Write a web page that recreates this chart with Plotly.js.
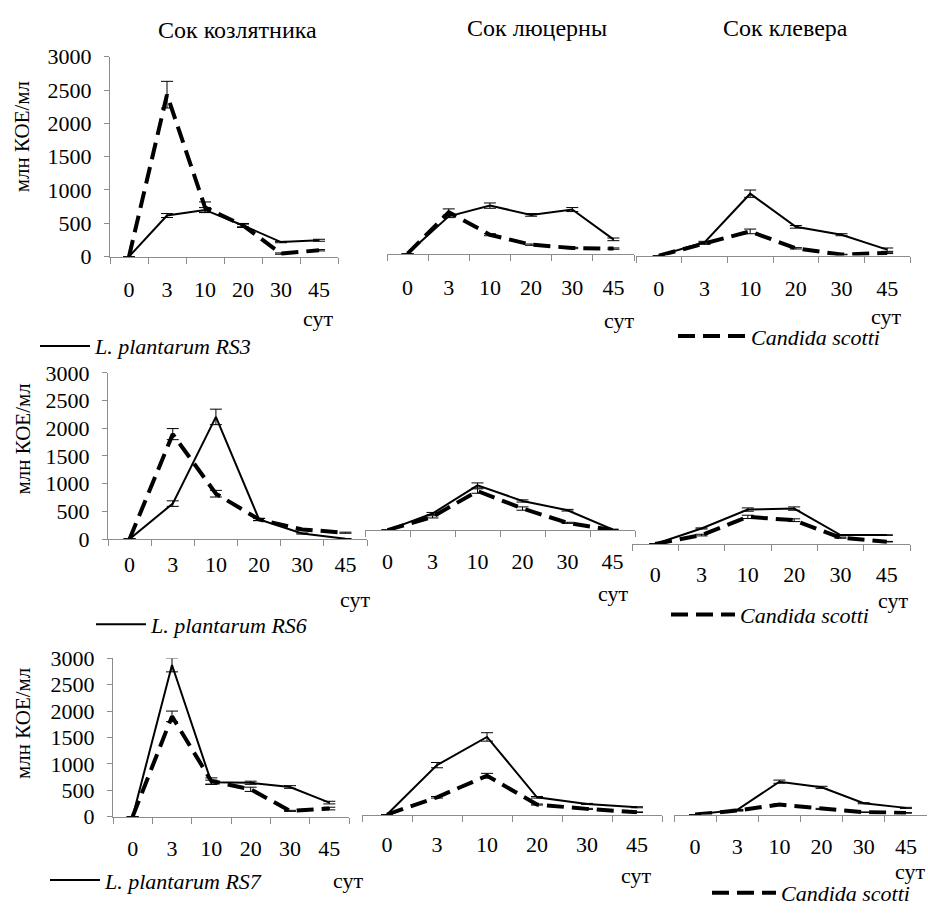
<!DOCTYPE html>
<html>
<head>
<meta charset="utf-8">
<script src="https://cdn.plot.ly/plotly-3.0.1.min.js"></script>
<style>html,body{margin:0;padding:0;background:#fff}#chart{width:928px;height:914px}</style>
</head>
<body>
<div id="chart"></div>
<script>
// ---- categories (days) ----
const days = ['0', '3', '10', '20', '30', '45'];
const juices = ['Сок козлятника', 'Сок люцерны', 'Сок клевера'];
const yTicks = [0, 500, 1000, 1500, 2000, 2500, 3000];

// ---- Row 1: L. plantarum RS3 / Candida scotti ----
const rs3_koz = [0, 616, 700, 467, 218, 245];
const rs3_koz_err = [0, 30, 35, 20, 10, 15];
const cs1_koz = [0, 2430, 740, 467, 45, 95];
const cs1_koz_err = [0, 200, 80, 30, 10, 10];
const rs3_lyu = [0, 560, 720, 581, 661, 214];
const rs3_lyu_err = [0, 20, 40, 20, 30, 20];
const cs1_lyu = [0, 621, 283, 134, 84, 75];
const cs1_lyu_err = [0, 50, 15, 10, 10, 10];
const rs3_klev = [0, 199, 929, 432, 313, 89];
const rs3_klev_err = [0, 15, 55, 20, 15, 25];
const cs1_klev = [0, 184, 363, 109, 15, 40];
const cs1_klev_err = [0, 15, 35, 10, 5, 10];

// ---- Row 2: L. plantarum RS6 / Candida scotti ----
const rs6_koz = [0, 640, 2206, 353, 100, 5];
const rs6_koz_err = [0, 50, 140, 20, 10, 5];
const cs2_koz = [0, 1895, 819, 353, 173, 114];
const cs2_koz_err = [0, 100, 60, 20, 10, 10];
const rs6_lyu = [0, 299, 807, 526, 359, 12];
const rs6_lyu_err = [0, 20, 45, 20, 15, 5];
const cs2_lyu = [0, 239, 705, 389, 131, 0];
const cs2_lyu_err = [0, 20, 40, 30, 10, 5];
const rs6_klev = [0, 281, 622, 640, 161, 161];
const rs6_klev_err = [0, 10, 30, 30, 10, 5];
const cs2_klev = [0, 161, 490, 430, 114, 42];
const cs2_klev_err = [0, 15, 30, 25, 10, 5];

// ---- Row 3: L. plantarum RS7 / Candida scotti ----
const rs7_koz = [0, 2874, 650, 640, 560, 264];
const rs7_koz_err = [0, 130, 40, 30, 25, 25];
const cs3_koz = [0, 1900, 673, 516, 107, 151];
const cs3_koz_err = [0, 100, 60, 40, 10, 25];
const rs7_lyu = [0, 937, 1472, 327, 201, 138];
const rs7_lyu_err = [0, 50, 80, 15, 10, 10];
const cs3_lyu = [0, 327, 736, 189, 107, 44];
const cs3_lyu_err = [0, 15, 45, 10, 10, 5];
const rs7_klev = [0, 88, 623, 516, 214, 126];
const rs7_klev_err = [0, 10, 30, 20, 10, 10];
const cs3_klev = [0, 75, 189, 107, 44, 31];
const cs3_klev_err = [0, 10, 15, 10, 5, 5];

const strainNames = ['L. plantarum RS3', 'L. plantarum RS6', 'L. plantarum RS7'];
const yeastName = 'Candida scotti';
const yTitle = 'млн КОЕ/мл';
const dayUnit = 'сут';

const W = 928, H = 914;
const FONT = '"Liberation Serif", "Times New Roman", serif';
const AX = '#8c8c8c';

// panel geometry in pixels: [x0, x1, yTop(3000), yZero]
const panels = [
  [110, 338, 57, 258], [387, 634, 54, 255], [636, 910, 56, 257],
  [108, 367, 375, 542], [365, 635, 366, 533], [632, 910, 380, 547],
  [113, 349, 662, 821], [362, 662, 660, 819], [674, 927, 660, 819]
];
const labelStandoff = [13, 14, 13, 6, 12, 11, 12, 10, 12];

const solidSeries = [rs3_koz, rs3_lyu, rs3_klev, rs6_koz, rs6_lyu, rs6_klev, rs7_koz, rs7_lyu, rs7_klev];
const solidErr = [rs3_koz_err, rs3_lyu_err, rs3_klev_err, rs6_koz_err, rs6_lyu_err, rs6_klev_err, rs7_koz_err, rs7_lyu_err, rs7_klev_err];
const dashSeries = [cs1_koz, cs1_lyu, cs1_klev, cs2_koz, cs2_lyu, cs2_klev, cs3_koz, cs3_lyu, cs3_klev];
const dashErr = [cs1_koz_err, cs1_lyu_err, cs1_klev_err, cs2_koz_err, cs2_lyu_err, cs2_klev_err, cs3_koz_err, cs3_lyu_err, cs3_klev_err];

const traces = [];
const layout = {
  width: W, height: H, autosize: false,
  margin: {l: 0, r: 0, t: 0, b: 0, pad: 0},
  paper_bgcolor: '#fff', plot_bgcolor: 'rgba(0,0,0,0)',
  font: {family: FONT, size: 22, color: '#000'},
  hovermode: false,
  showlegend: true,
  annotations: [],
};

panels.forEach((p, i) => {
  const n = i + 1;
  const xa = 'xaxis' + (n === 1 ? '' : n);
  const ya = 'yaxis' + (n === 1 ? '' : n);
  const xr = 'x' + (n === 1 ? '' : n);
  const yr = 'y' + (n === 1 ? '' : n);
  const row = Math.floor(i / 3), col = i % 3;
  layout[xa] = {
    domain: [p[0] / W, p[1] / W], anchor: yr, type: 'category',
    range: [-0.5, 5.5], showline: true, linecolor: AX, linewidth: 1,
    ticks: 'outside', tickson: 'boundaries', ticklen: 6, tickcolor: AX, tickwidth: 1,
    showgrid: false, zeroline: false, tickfont: {family: FONT, size: 22, color: '#000'},
    ticklabelstandoff: labelStandoff[i], fixedrange: true
  };
  const yAx = {
    domain: [1 - p[3] / H, 1 - p[2] / H], anchor: xr, range: [0, 3000],
    showgrid: false, zeroline: false, fixedrange: true
  };
  if (col === 0) {
    Object.assign(yAx, {showline: true, linecolor: AX, linewidth: 1, ticks: 'outside', ticklen: 5,
      tickcolor: AX, tickvals: yTicks, ticktext: yTicks.map(String), ticklabelstandoff: 8,
      tickfont: {family: FONT, size: 22, color: '#000'}});
  } else {
    Object.assign(yAx, {visible: false});
  }
  layout[ya] = yAx;

  traces.push({
    x: days, y: solidSeries[i], xaxis: xr, yaxis: yr, type: 'scatter', mode: 'lines',
    name: '<i>' + strainNames[row] + '</i>',
    line: {color: '#000', width: 2},
    error_y: {type: 'data', array: solidErr[i], visible: true, color: '#000', thickness: 1, width: 6},
    showlegend: col === 0, legend: 'legend' + (row * 2 + 1 === 1 ? '' : row * 2 + 1)
  });
  traces.push({
    x: days, y: dashSeries[i], xaxis: xr, yaxis: yr, type: 'scatter', mode: 'lines',
    name: '<i>' + yeastName + '</i>',
    line: {color: '#000', width: 4, dash: '17px,8px'},
    error_y: {type: 'data', array: dashErr[i], visible: true, color: '#000', thickness: 1, width: 6},
    showlegend: col === 2, legend: 'legend' + (row * 2 + 2)
  });
});

// legends: [textStartX, centerY, symbol width]
const legPos = [[97, 348, 50], [753, 338, 68], [153, 628, 50], [742, 618, 64], [107, 885, 50], [783, 898, 64]];
legPos.forEach((lp, k) => {
  const key = 'legend' + (k === 0 ? '' : k + 1);
  layout[key] = {
    x: (lp[0] - lp[2] - 12) / W, y: 1 - lp[1] / H, xanchor: 'left', yanchor: 'middle',
    bgcolor: 'rgba(0,0,0,0)', borderwidth: 0, itemwidth: lp[2],
    font: {family: FONT, size: 22, color: '#000'}
  };
});

// panel titles
const titlePos = [[237, 30], [537, 28], [785, 28]];
juices.forEach((t, k) => {
  layout.annotations.push({text: t, xref: 'paper', yref: 'paper', x: titlePos[k][0] / W, y: 1 - titlePos[k][1] / H,
    xanchor: 'center', yanchor: 'middle', showarrow: false, font: {family: FONT, size: 24, color: '#000'}});
});
// y titles
[[22, 138], [23, 442], [23, 728]].forEach(p => {
  layout.annotations.push({text: yTitle, textangle: -90, xref: 'paper', yref: 'paper', x: p[0] / W, y: 1 - p[1] / H,
    xanchor: 'center', yanchor: 'middle', showarrow: false, font: {family: FONT, size: 21, color: '#000'}});
});
// day unit labels
[[335, 320], [636, 322], [903, 318], [372, 603], [630, 597], [910, 604], [365, 885], [653, 880], [927, 876]].forEach(p => {
  layout.annotations.push({text: dayUnit, xref: 'paper', yref: 'paper', x: p[0] / W, y: 1 - p[1] / H,
    xanchor: 'right', yanchor: 'middle', showarrow: false, font: {family: FONT, size: 22, color: '#000'}});
});

Plotly.newPlot('chart', traces, layout, {displayModeBar: false, staticPlot: true});
</script>
</body>
</html>
